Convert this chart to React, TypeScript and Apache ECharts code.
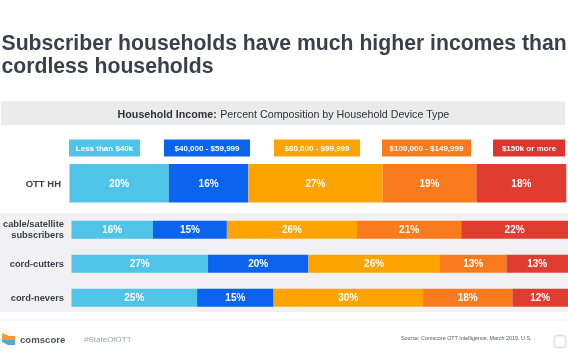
import React, { useEffect, useRef } from "react";
import * as echarts from "echarts";

const bands = ["Less than $40k", "$40,000 - $59,999", "$60,000 - $99,999", "$100,000 - $149,999", "$150k or more"];
const colors = ["#4fc3e8", "#0a64f0", "#ffa300", "#f97b1e", "#e03c30"];
const legendColors = ["#4fc3e8", "#0a64f0", "#ffa300", "#f97b1e", "#dc3530"];
const topCategory = ["OTT HH"];
const lowerCategories = ["cable/satellite\nsubscribers", "cord-cutters", "cord-nevers"];

// Bar lengths as measured in the picture (percent of bar width)
const topValues = [[20], [16], [27], [18.9], [18.1]];
const lowerValues = [
  [16.4, 27.5, 25.3],
  [14.9, 20.2, 15.4],
  [26.2, 26.5, 30.1],
  [21, 13.4, 18],
  [21.5, 12.4, 11.2],
];
// Percentages as printed on the bars
const topLabels = [["20%"], ["16%"], ["27%"], ["19%"], ["18%"]];
const lowerLabels = [
  ["16%", "27%", "25%"],
  ["15%", "20%", "15%"],
  ["26%", "26%", "30%"],
  ["21%", "13%", "18%"],
  ["22%", "13%", "12%"],
];
const legendBoxes = [
  [69, 71],
  [164, 86],
  [274, 86],
  [382, 89],
  [493, 72],
];

const FONT = "'Liberation Sans', Arial, sans-serif";
const DARK = "#3a3f49";

export default function App() {
  const ref = useRef<HTMLDivElement>(null);
  useEffect(() => {
    document.body.style.margin = "0";
    const chart = echarts.init(ref.current!, undefined, { renderer: "svg" });
    const makeSeries = (vals: number[][], labels: string[][], axisIndex: number, stack: string, bw: any) =>
      vals.map((d, i) => ({
        type: "bar",
        name: bands[i],
        stack,
        xAxisIndex: axisIndex,
        yAxisIndex: axisIndex,
        data: d,
        barWidth: bw,
        itemStyle: { color: colors[i] },
        label: {
          show: true,
          position: "inside",
          color: "#fff",
          fontFamily: FONT,
          fontWeight: "bold",
          fontSize: 10,
          formatter: (p: any) => labels[i][p.dataIndex],
        },
      }));
    const yAxisBase = {
      type: "category",
      inverse: true,
      axisLine: { show: false },
      axisTick: { show: false },
    };
    const labelStyle = { color: DARK, fontFamily: FONT, fontWeight: "bold", fontSize: 9.3, lineHeight: 11, padding: [0, 0, 2, 0] };
    const xBase = { type: "value", min: 0, max: 100, show: false };
    chart.setOption({
      animation: false,
      backgroundColor: "#ffffff",
      grid: [
        { left: 69.5, width: 496.8, top: 164, height: 38.5 },
        { left: 70.7, width: 497.3, top: 212.7, height: 102 },
      ],
      xAxis: [
        { ...xBase, gridIndex: 0 },
        { ...xBase, gridIndex: 1 },
      ],
      yAxis: [
        { ...yAxisBase, gridIndex: 0, data: topCategory, axisLabel: { ...labelStyle, fontSize: 9.5, margin: 8.5 } },
        { ...yAxisBase, gridIndex: 1, data: lowerCategories, axisLabel: { ...labelStyle, margin: 7.5 } },
      ],
      series: [
        ...makeSeries(topValues, topLabels, 0, "top", "100%"),
        ...makeSeries(lowerValues, lowerLabels, 1, "lower", 18),
      ],
      graphic: [
        { type: "rect", z: -1, silent: true, shape: { x: 0, y: 213, width: 568, height: 99 }, style: { fill: "#f1f1f4" } },
        { type: "rect", shape: { x: 1, y: 101.5, width: 564, height: 23.5 }, style: { fill: "#ebebeb" } },
        { type: "text", x: 1.5, y: 32, style: { text: "Subscriber households have much higher incomes than", fill: DARK, font: `bold 21.2px ${FONT}` } },
        { type: "text", x: 1.5, y: 55, style: { text: "cordless households", fill: DARK, font: `bold 21.2px ${FONT}` } },
        {
          type: "text",
          x: 283.5,
          y: 113.5,
          style: {
            text: "{b|Household Income:} {r|Percent Composition by Household Device Type}",
            align: "center",
            verticalAlign: "middle",
            rich: {
              b: { font: `bold 10.7px ${FONT}`, fill: "#2f3238" },
              r: { font: `10.7px ${FONT}`, fill: "#2f3238" },
            },
          },
        },
        ...legendBoxes.flatMap(([x, w], i) => [
          { type: "rect", shape: { x, y: 139.5, width: w, height: 17 }, style: { fill: legendColors[i] } },
          {
            type: "text",
            x: x + w / 2,
            y: 148,
            style: { text: bands[i], align: "center", verticalAlign: "middle", fill: "#fff", font: `bold 8px ${FONT}` },
          },
        ]),
        { type: "line", shape: { x1: 2, y1: 320, x2: 566, y2: 320 }, style: { stroke: "#f0f0f2", lineWidth: 1 } },
        { type: "polygon", shape: { points: [[2, 333], [9, 336], [15, 336], [15, 340], [2, 340]] }, style: { fill: "#f59a30" } },
        { type: "polygon", shape: { points: [[2, 340], [15, 340], [15, 345], [8, 345], [2, 342]] }, style: { fill: "#5aa5cf" } },
        { type: "text", x: 20, y: 339, style: { text: "comscore", verticalAlign: "middle", fill: "#50535a", font: `bold 9.6px ${FONT}` } },
        { type: "text", x: 84, y: 339, style: { text: "#StateOfOTT", verticalAlign: "middle", fill: "#a0a2a6", font: `8px ${FONT}` } },
        { type: "text", x: 401, y: 338, style: { text: "Source: Comscore OTT Intelligence, March 2019, U.S.", verticalAlign: "middle", fill: "#55575c", font: `5.4px ${FONT}` } },
        {
          type: "rect",
          shape: { x: 555, y: 336, width: 10, height: 11, r: 2 },
          style: { fill: "#fff", stroke: "#d0d0d0", lineWidth: 0.5, shadowBlur: 2, shadowColor: "rgba(0,0,0,0.4)" },
        },
      ],
    });
    return () => chart.dispose();
  }, []);
  return <div ref={ref} style={{ position: "fixed", left: 0, top: 0, width: 568, height: 356, filter: "blur(0.3px)" }} />;
}
